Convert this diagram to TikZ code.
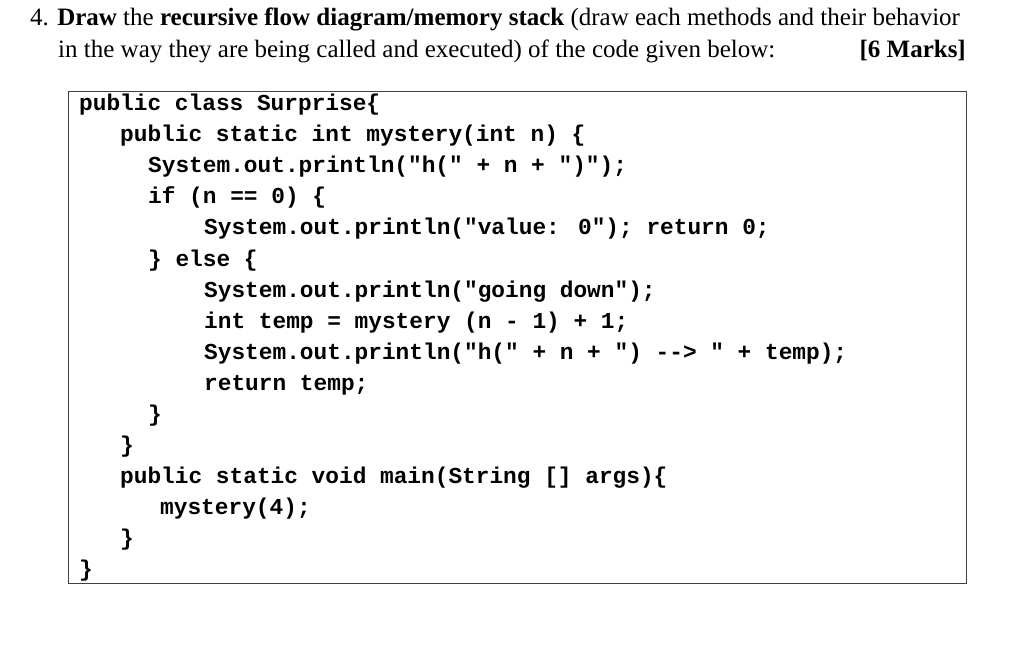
\documentclass[tikz,border=0pt]{standalone}
\usepackage{fontspec}
\setmainfont{Liberation Serif}
\newfontfamily\codefont{Liberation Mono}
\begin{document}
\begin{tikzpicture}[x=1pt,y=-1pt,
  code/.style={anchor=base west,inner sep=0pt,font=\fontsize{22.8}{24}\codefont\bfseries},
  head/.style={anchor=base west,inner sep=0pt,font=\fontsize{25}{28}\selectfont}]
\useasboundingbox (0,0) rectangle (1028,655);
\fill[white] (0,0) rectangle (1028,655);
\node[head] (h1) at (30,26) {4. \textbf{Draw} the \textbf{recursive flow diagram/memory stack} (draw each methods and their behavior};
\node[head] (h2) at (58,58) {in the way they are being called and executed) of the code given below:};
\node[head,anchor=base east] (h3) at (966,58) {\textbf{[6 Marks]}};
\draw[line width=1pt,black!75] (68,92) rectangle (966,583);
\node[code] (c1) at (79,111) {public class Surprise\{};
\node[code] (c2) at (120,142) {public static int mystery(int n) \{};
\node[code] (c3) at (148,173) {System.out.println("h(" + n + ")");};
\node[code] (c4) at (148,204) {if (n == 0) \{};
\node[code] (c5) at (204,235) {System.out.println("value: 0"); return 0;};
\node[code] (c6) at (148,266) {\} else \{};
\node[code] (c7) at (204,297) {System.out.println("going down");};
\node[code] (c8) at (204,328) {int temp = mystery (n - 1) + 1;};
\node[code] (c9) at (204,359) {System.out.println("h(" + n + ") --> " + temp);};
\node[code] (c10) at (204,390) {return temp;};
\node[code] (c11) at (148,421) {\}};
\node[code] (c12) at (120,452) {\}};
\node[code] (c13) at (120,483) {public static void main(String [] args)\{};
\node[code] (c14) at (160,514) {mystery(4);};
\node[code] (c15) at (120,545) {\}};
\node[code] (c16) at (79,576) {\}};
\end{tikzpicture}
\end{document}
